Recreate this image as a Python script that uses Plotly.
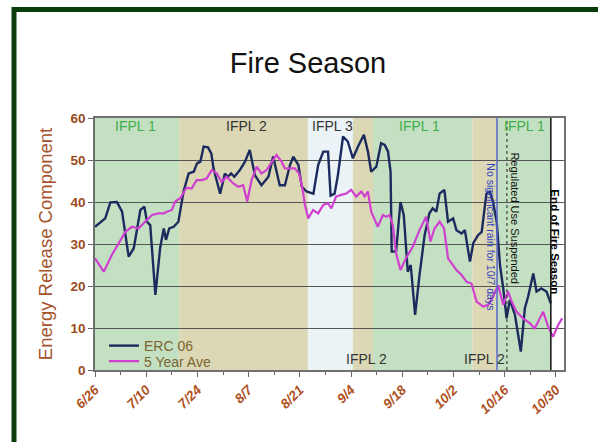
import plotly.graph_objects as go
import pandas as pd

START = pd.Timestamp("2006-06-26")

# ---- data (days since 6/26, value) ----
erc_day = [0, 2.8, 4.2, 6, 7.4, 9.2, 10.6, 12.4, 13.5, 14.2, 15.1, 16.5, 17.8, 18.8, 19.4, 20.3, 21.5, 22.8,
           24.2, 25.6, 27, 27.9, 28.8, 29.7, 30.9, 31.8, 32.4, 33.4, 34.2, 35.5, 36.3, 37.2, 38.1, 39.6, 41,
           42.3, 43.7, 45.5, 47.4, 48.7, 50.5, 51.9, 53.3, 54.2, 55.6, 56.5, 57.8, 59.7, 61, 62.4, 63.7, 64.4,
           65.5, 66.4, 67.8, 69.1, 70.5, 71.9, 73.5, 74.6, 75.5, 76.9, 78.2, 79.2, 80.1, 80.8, 81.1, 82.3,
           83.5, 84.4, 85.5, 86.3, 87.5, 88.7, 90.1, 91.4, 92.3, 93.3, 94.2, 95.5, 96.5, 97.9, 98.8, 100.2,
           101.1, 101.6, 102.5, 103.4, 104.7, 105.7, 107, 107.9, 108.8, 109.8, 110.7, 111.6, 112.5, 113.4,
           114.8, 116.4, 117.5, 118.4, 119.8, 120.7, 122, 123.4, 124.6]
erc_val = [34.1, 36.1, 39.9, 40, 37.7, 27, 29, 38.1, 38.9, 35.3, 34.5, 17.9, 29, 33.7, 31, 33.7, 34.1, 35.3,
           42.5, 46.8, 47.2, 49.2, 49.6, 53.2, 53, 51.5, 48, 45, 42, 46.8, 46, 46.8, 46, 47.6, 49.6,
           52.4, 46.4, 44, 46, 50.8, 44, 44, 48.8, 50.8, 48.8, 43.7, 42.5, 42, 48.8, 52, 52, 41.5,
           42, 46.4, 55.6, 54.4, 50.4, 53.2, 56, 52, 47.2, 48.4, 54, 53.6, 52, 47.2, 28.2, 28.2,
           40, 36.9, 23.4, 25, 13.1, 22.6, 32.1, 37.3, 38.5, 37.7, 42, 42.9, 35.3, 36.1, 33.3, 32.5,
           33.3, 30.6, 25.8, 30.2, 32.1, 32.9, 42, 42.5, 40, 35.3, 25, 19.4, 12.3, 16.7,
           13.1, 4.4, 14.7, 17.5, 23, 18.7, 19.4, 18.7, 15.9]

ave_day = [0, 2.4, 4.6, 6.9, 8.3, 10.1, 11.9, 13.7, 15.6, 17.4, 18.8, 19.7, 21, 21.9, 23.3, 25, 26.4, 27.8,
           29.2, 30.5, 31.9, 33.3, 34.6, 36, 37.8, 39.2, 40.5, 41.6, 42.8, 44.2, 45.5, 46.9, 48.3, 49.6, 51,
           51.9, 53.3, 54.6, 55.8, 56.7, 57.4, 58.3, 59.6, 61, 62.4, 63.7, 64.6, 65.9, 67.3, 68.7, 70, 71.4,
           72.8, 73.7, 74.6, 75.5, 77.3, 78.7, 79.6, 80.5, 81.4, 82.3, 83.5, 85, 86.9, 88.7, 90.5, 91.7,
           92.8, 94.2, 95.4, 96.5, 97.5, 98.8, 100.2, 101.6, 102.9, 104.3, 106.1, 107.5, 108.8, 110.2,
           111.6, 112.9, 113.9, 115.2, 117, 118.9, 120.2, 121.6, 122.5, 123.9, 125.2, 126.6, 127.7]
ave_val = [26.6, 23.4, 27.4, 31, 32.9, 34.1, 33.7, 35.3, 36.9, 37.3, 37.3, 37.7, 38.1, 40.1, 40.9, 43.4, 43.2, 45.2,
           45.2, 45.6, 47.6, 46.8, 44.8, 46, 44.4, 43.6, 44, 40.1, 45.2, 48.4, 46.8, 47.6, 49.6, 51.2, 49.6,
           48, 48, 48, 46.8, 43.2, 39.3, 36.1, 38.1, 37.3, 39.3, 39.7, 38.5, 41.3, 41.7, 42, 42.9, 41.3,
           42.5, 41.3, 42.5, 37.7, 34.1, 36.9, 36.5, 36.9, 34.5, 27.8, 23.8, 26.6, 29.4, 33.3, 36.5, 30.6,
           33.7, 35.3, 33.7, 26.6, 25.4, 23.8, 22.6, 21, 20.6, 16.3, 15.1, 15.5, 17.5, 20.2,
           15.5, 18.7, 16.3, 13.9, 12.3, 11.1, 9.9, 12.3, 13.9, 10.3, 7.9, 10.7, 12.3]

tick_labels = ["6/26", "7/10", "7/24", "8/7", "8/21", "9/4", "9/18", "10/2", "10/16", "10/30"]
tick_dates = ["2006-06-26", "2006-07-10", "2006-07-24", "2006-08-07", "2006-08-21",
              "2006-09-04", "2006-09-18", "2006-10-02", "2006-10-16", "2006-10-30"]

# IFPL periods
period_start = [0, 23, 58.2, 70.5, 76, 103.2, 109.9]
period_end = [23, 58.2, 70.5, 76, 103.2, 109.9, 124.6]
period_level = ["IFPL 1", "IFPL 2", "IFPL 3", "IFPL 2", "IFPL 1", "IFPL 2", "IFPL 1"]

event_day = [109.9, 112.6, 124.6]
event_text = ["No significant rain for 10/7 days", "Regulated Use Suspended", "End of Fire Season"]


def d2t(d):
    return (START + pd.to_timedelta(d, unit="D")).strftime("%Y-%m-%d %H:%M:%S")


FONT = "Liberation Sans, Arial, sans-serif"
band_color = {"IFPL 1": "#c3e0c3", "IFPL 2": "#dcd8b6", "IFPL 3": "#ebf3f7"}

fig = go.Figure()
fig.add_trace(go.Scatter(x=[d2t(d) for d in erc_day], y=erc_val, mode="lines", name="ERC 06",
                         line=dict(color="#1c2b5e", width=2.4), legend="legend"))
fig.add_trace(go.Scatter(x=[d2t(d) for d in ave_day], y=ave_val, mode="lines", name="5 Year Ave",
                         line=dict(color="#d040d0", width=2.2), legend="legend2"))

shapes = []
for s, e, lv in zip(period_start, period_end, period_level):
    shapes.append(dict(type="rect", xref="x", yref="paper", x0=d2t(s), x1=d2t(e), y0=0, y1=1,
                       fillcolor=band_color[lv], line=dict(width=0), layer="below"))
# event lines
shapes.append(dict(type="line", xref="x", yref="paper", x0=d2t(event_day[0]), x1=d2t(event_day[0]),
                   y0=0, y1=1, line=dict(color="#5566cc", width=1.5)))
shapes.append(dict(type="line", xref="x", yref="paper", x0=d2t(event_day[1]), x1=d2t(event_day[1]),
                   y0=0, y1=1, line=dict(color="#222222", width=1, dash="dot")))
shapes.append(dict(type="line", xref="x", yref="paper", x0=d2t(event_day[2]), x1=d2t(event_day[2]),
                   y0=0, y1=1, line=dict(color="#111111", width=1.5)))

# outer dark green frame
L, T, PW, PH = 95, 118, 469, 252
def px(xp): return (xp - L) / PW
def py(yp): return (T + PH - yp) / PH
shapes.append(dict(type="line", xref="paper", yref="paper", x0=px(14), x1=px(14), y0=py(7), y1=py(460),
                   line=dict(color="#0b3d0b", width=5)))
shapes.append(dict(type="line", xref="paper", yref="paper", x0=px(12), x1=px(620), y0=py(9.5), y1=py(9.5),
                   line=dict(color="#0b3d0b", width=5)))

annotations = []
lab = [("IFPL 1", 11.2, 58.1, "#3fae49"), ("IFPL 2", 41.5, 58.1, "#333333"), ("IFPL 3", 64.8, 58.1, "#333333"),
       ("IFPL 1", 88.8, 58.1, "#3fae49"), ("IFPL 1", 117.5, 58.1, "#3fae49"),
       ("IFPL 2", 74.1, 2.6, "#333333"), ("IFPL 2", 106.6, 2.6, "#333333")]
for t, d, y, c in lab:
    annotations.append(dict(text=t, x=d2t(d), y=y, xref="x", yref="y", showarrow=False,
                            font=dict(family=FONT, size=14, color=c)))
annotations.append(dict(text=event_text[0], x=d2t(108.4), y=31.7, xref="x", yref="y", showarrow=False,
                        textangle=90, font=dict(family=FONT, size=10.5, color="#3344bb")))
annotations.append(dict(text=event_text[1], x=d2t(114.8), y=36.1, xref="x", yref="y", showarrow=False,
                        textangle=90, font=dict(family=FONT, size=11, color="#111111")))
annotations.append(dict(text="<b>" + event_text[2] + "</b>", x=d2t(126.0), y=30.4, xref="x", yref="y",
                        showarrow=False, textangle=90, font=dict(family=FONT, size=11.6, color="#000000")))

legend_style = dict(xanchor="left", yanchor="middle", bgcolor="rgba(0,0,0,0)",
                    font=dict(family=FONT, size=14, color="#7d6530"), itemwidth=30)

fig.update_layout(
    width=598, height=442,
    margin=dict(l=L, r=598 - L - PW, t=T, b=442 - T - PH),
    paper_bgcolor="white", plot_bgcolor="white",
    title=dict(text="Fire Season", x=308 / 598, xanchor="center", y=1 - 63 / 442, yanchor="middle",
               font=dict(family=FONT, size=29, color="#111111")),
    shapes=shapes, annotations=annotations,
    showlegend=True,
    legend=dict(x=px(104), y=py(346), **legend_style),
    legend2=dict(x=px(104), y=py(361.5), **legend_style),
    font=dict(family=FONT),
)
fig.update_xaxes(type="date", range=[d2t(0), d2t(128.2)], tickvals=tick_dates, ticktext=tick_labels,
                 tickangle=-45, ticks="outside", ticklen=5, tickcolor="#666666",
                 tickfont=dict(family=FONT, size=13.5, color="#b0501e", weight="bold", style="italic"),
                 showgrid=False, showline=True, mirror=True, linecolor="#707070", linewidth=1.5,
                 minor=dict(ticks="outside", ticklen=3, dtick=7 * 86400000, tick0="2006-06-26",
                            tickcolor="#666666", showgrid=False))
fig.update_yaxes(range=[0, 60], dtick=10, ticks="outside", ticklen=5, tickcolor="#666666",
                 tickfont=dict(family=FONT, size=13.5, color="#9a4a20", weight="bold"),
                 showgrid=True, gridcolor="#555555", gridwidth=1.2, zeroline=False,
                 showline=True, mirror=True, linecolor="#707070", linewidth=1.5,
                 title=dict(text="Energy Release Component", standoff=13,
                            font=dict(family=FONT, size=18.5, color="#a5522a")))

fig.write_html("out.html", config={"displayModeBar": False},
               post_script="document.body.style.margin='0px';")
